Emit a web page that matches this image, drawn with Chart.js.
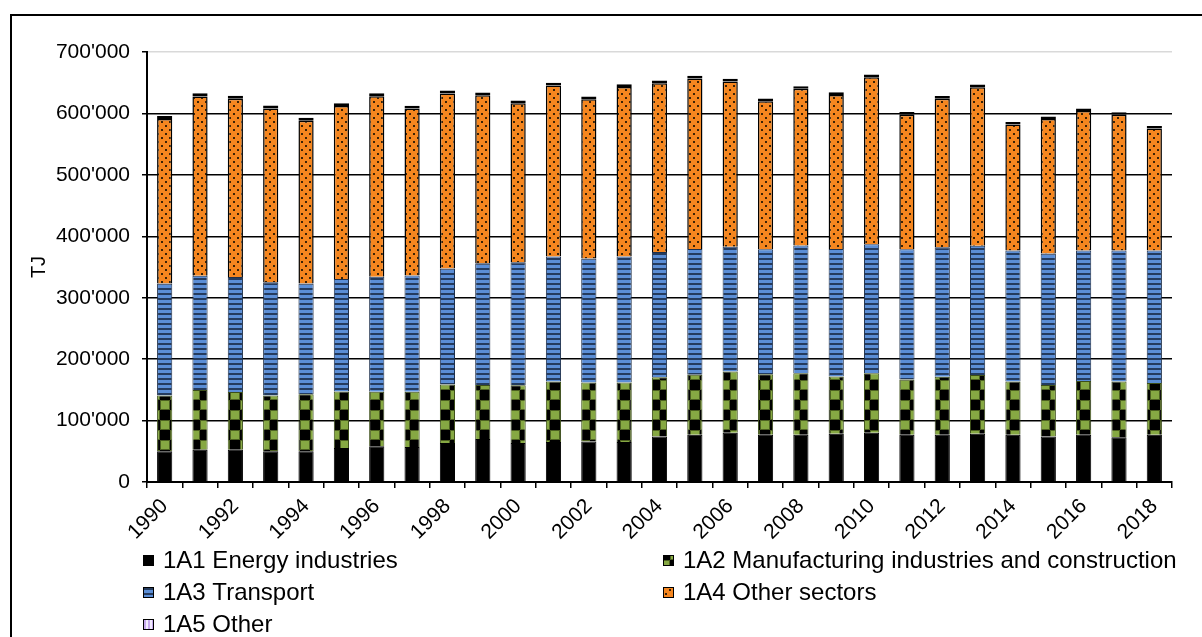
<!DOCTYPE html>
<html>
<head>
<meta charset="utf-8">
<script src="https://cdn.jsdelivr.net/npm/chart.js@4.4.1/dist/chart.umd.min.js"></script>
<style>
  html, body { margin: 0; padding: 0; background: #fff; }
  canvas { display: block; }
</style>
</head>
<body>
<canvas id="grafico" width="1202" height="637"></canvas>
<script>
const anos = ["1990", "1991", "1992", "1993", "1994", "1995", "1996", "1997", "1998", "1999",
  "2000", "2001", "2002", "2003", "2004", "2005", "2006", "2007", "2008", "2009",
  "2010", "2011", "2012", "2013", "2014", "2015", "2016", "2017", "2018"];

// valores em TJ
const energia = [50000, 52700, 52700, 50000, 50000, 55400, 58000, 57000, 63600, 70000,
  63600, 65000, 66000, 65000, 74000, 77000, 80000, 77000, 77000, 78700,
  80000, 77000, 77000, 78700, 77000, 74000, 77000, 73000, 77000];
const industria = [91000, 97000, 94000, 91000, 93000, 92000, 89000, 90000, 95000, 88000,
  94000, 98500, 96000, 97000, 96500, 97500, 100000, 98500, 100000, 93000,
  97000, 90000, 94500, 95500, 86500, 84000, 87500, 90500, 84000];
const transporte = [182000, 186000, 187000, 184000, 180000, 183000, 187000, 189000, 189000, 198000,
  200000, 203500, 202000, 205000, 204000, 205000, 203000, 203500, 208000, 207500,
  210000, 212000, 210500, 210500, 213500, 214000, 212500, 213500, 216000];
const outrosSetores = [268000, 292000, 290000, 283000, 265000, 281500, 294000, 272000, 285000, 273500,
  259000, 278500, 259000, 276000, 274500, 277500, 269000, 241000, 255000, 251000,
  272000, 219000, 242000, 258000, 205000, 219000, 227000, 221000, 198500];
const outros = [5000, 5000, 4900, 4800, 4800, 4700, 4700, 4600, 4600, 4500,
  4500, 4500, 4400, 4400, 4500, 4500, 4400, 4300, 4300, 4300,
  4400, 4300, 4200, 4300, 4200, 4200, 4200, 4100, 4100];

const nomes = ["1A1 Energy industries", "1A2 Manufacturing industries and construction",
  "1A3 Transport", "1A4 Other sectors", "1A5 Other"];
const ticksY = [0, 100000, 200000, 300000, 400000, 500000, 600000, 700000];

// padrões de preenchimento
function padrao(w, h, desenha) {
  const c = document.createElement("canvas");
  c.width = w; c.height = h;
  desenha(c.getContext("2d"));
  return document.getElementById("grafico").getContext("2d").createPattern(c, "repeat");
}

const pVerde = padrao(20, 20, g => {
  g.fillStyle = "#000"; g.fillRect(0, 0, 20, 20);
  g.fillStyle = "#86a843";
  g.fillRect(0, 0, 10, 10); g.fillRect(10, 10, 10, 10);
  g.strokeStyle = "#4d6121"; g.lineWidth = 1;
  g.strokeRect(0.5, 0.5, 9, 9); g.strokeRect(10.5, 10.5, 9, 9);
});
const pAzul = padrao(4, 5, g => {
  g.fillStyle = "#5b8ed6"; g.fillRect(0, 0, 4, 3);
  g.fillStyle = "#243b5e"; g.fillRect(0, 3, 4, 2);
});
const pLaranja = padrao(8, 8, g => {
  g.fillStyle = "#f5861f"; g.fillRect(0, 0, 8, 8);
  g.fillStyle = "#3b2205";
  g.fillRect(1, 1, 2, 2); g.fillRect(5, 5, 2, 2);
});
const pLilas = padrao(4, 4, g => {
  g.fillStyle = "#f3ecff"; g.fillRect(0, 0, 4, 4);
  g.fillStyle = "#c6a9ee"; g.fillRect(0, 0, 2, 4);
});

const fundo = {
  id: "fundo",
  beforeDraw(chart) {
    const ctx = chart.ctx;
    ctx.save();
    ctx.fillStyle = "#fff";
    ctx.fillRect(0, 0, chart.width, chart.height);
    ctx.strokeStyle = "#000";
    ctx.lineWidth = 2;
    ctx.strokeRect(11, 15, 1400, 900);
    ctx.restore();
  }
};

// legenda em duas colunas
const legenda = {
  id: "legenda",
  afterDraw(chart) {
    const ctx = chart.ctx;
    const pos = [[143, 560], [663, 560], [143, 592], [663, 592], [143, 624]];
    ctx.save();
    ctx.font = "24px 'Liberation Sans', Arial, sans-serif";
    ctx.textBaseline = "middle";
    chart.data.datasets.forEach((ds, i) => {
      const [x, y] = pos[i];
      ctx.fillStyle = ds.backgroundColor;
      ctx.fillRect(x, y - 5, 11, 11);
      ctx.strokeStyle = "#000";
      ctx.lineWidth = 1;
      ctx.strokeRect(x + 0.5, y - 4.5, 10, 10);
      ctx.fillStyle = "#000";
      ctx.fillText(ds.label, x + 20, y + 1);
    });
    ctx.restore();
  }
};

Chart.defaults.font.family = "'Liberation Sans', Arial, sans-serif";
Chart.defaults.color = "#000";

new Chart(document.getElementById("grafico"), {
  type: "bar",
  data: {
    labels: anos,
    datasets: [
      { label: nomes[0], data: energia, backgroundColor: "#000", borderColor: "#000", borderWidth: 1 },
      { label: nomes[1], data: industria, backgroundColor: pVerde, borderColor: "#3d4f1a", borderWidth: 1 },
      { label: nomes[2], data: transporte, backgroundColor: pAzul, borderColor: "#1c2f4c", borderWidth: 1 },
      { label: nomes[3], data: outrosSetores, backgroundColor: pLaranja, borderColor: "#000", borderWidth: 1.5 },
      { label: nomes[4], data: outros, backgroundColor: pLilas, borderColor: "#000", borderWidth: 3, borderSkipped: false }
    ]
  },
  options: {
    responsive: false,
    animation: false,
    devicePixelRatio: 1,
    categoryPercentage: 1,
    barPercentage: 0.43,
    layout: { padding: { left: 20, right: 30, top: 52, bottom: 85 } },
    plugins: {
      legend: { display: false },
      tooltip: { enabled: false }
    },
    scales: {
      x: {
        stacked: true,
        afterFit(s) { s.height = 70; },
        grid: { drawOnChartArea: false, offset: true, tickLength: 6, color: "#000", lineWidth: 1.5 },
        border: { color: "#000", width: 2 },
        ticks: {
          autoSkip: false,
          maxRotation: 45,
          minRotation: 45,
          padding: 6,
          font: { size: 21 },
          callback: (v, i) => i % 2 === 0 ? anos[i] : ""
        }
      },
      y: {
        stacked: true,
        min: 0,
        max: 700000,
        afterFit(s) { s.width = 127; },
        afterBuildTicks(s) { s.ticks = ticksY.map(v => ({ value: v })); },
        title: { display: true, text: "TJ", font: { size: 20 }, padding: { top: 7, bottom: 0 } },
        grid: {
          color: c => c.tick && c.tick.value === 700000 ? "#d9d9d9" : "#000",
          tickColor: "#000",
          lineWidth: 1.5,
          tickLength: 5
        },
        border: { color: "#000", width: 2 },
        ticks: {
          padding: 12,
          font: { size: 21 },
          callback: v => String(v).replace(/\B(?=(\d{3})+(?!\d))/g, "'")
        }
      }
    }
  },
  plugins: [fundo, legenda]
});
</script>
</body>
</html>
